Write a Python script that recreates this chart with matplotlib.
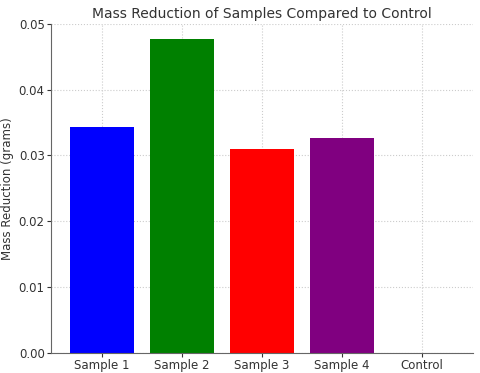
import matplotlib
matplotlib.use("Agg")
import matplotlib.pyplot as plt

# data
samples = ["Sample 1", "Sample 2", "Sample 3", "Sample 4", "Control"]
mass_reduction = [0.0344, 0.0477, 0.0310, 0.0326, 0.0]
bar_colors = ["blue", "green", "red", "purple", "gray"]

fig = plt.figure(figsize=(4.8, 3.73), dpi=100)
ax = fig.add_axes([0.106, 0.054, 0.879, 0.882])

ax.bar(samples, mass_reduction, color=bar_colors, width=0.8, zorder=2)

ax.set_ylim(0, 0.05)
ax.set_yticks([0.0, 0.01, 0.02, 0.03, 0.04, 0.05])
ax.set_yticklabels(["0.00", "0.01", "0.02", "0.03", "0.04", "0.05"])
ax.set_title("Mass Reduction of Samples Compared to Control", fontsize=10, color="#333333", pad=4)
ax.set_ylabel("Mass Reduction (grams)", fontsize=8.5, color="#333333", labelpad=3)
ax.tick_params(labelsize=8.5, colors="#333333", length=3, pad=1.5)
ax.grid(True, linestyle=":", color="#cccccc", linewidth=0.8, zorder=0)

for side in ["top", "right"]:
    ax.spines[side].set_visible(False)
for side in ["left", "bottom"]:
    ax.spines[side].set_color("#666666")

fig.savefig("out.png", dpi=100)
